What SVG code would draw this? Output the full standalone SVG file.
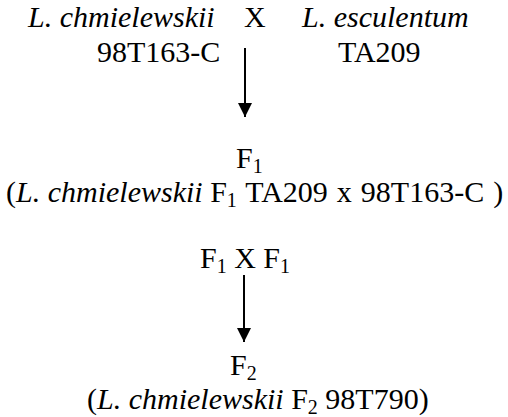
<svg xmlns="http://www.w3.org/2000/svg" width="508" height="417" viewBox="0 0 508 417" font-family="'Liberation Serif', 'DejaVu Serif', serif">
<defs>
<style>
text { font-family: 'Liberation Serif', 'DejaVu Serif', serif; font-size: 30px; fill: #000; }
.it { font-style: italic; }
.sub { font-size: 20px; }
.conn line { stroke: #000; stroke-width: 2; }
</style>
<marker id="ah" viewBox="0 0 14 15" refX="14" refY="7" markerWidth="14" markerHeight="15" markerUnits="userSpaceOnUse" orient="auto">
<path d="M0,0 L14,7 L0,14 Z" fill="#000"/>
</marker>
</defs>
<rect width="508" height="417" fill="#fff"/>
<g id="parents">
<text x="28" y="27" class="it">L. chmielewskii</text>
<text x="244" y="27">X</text>
<text x="302" y="27" class="it">L. esculentum</text>
<text x="97" y="62">98T163-C</text>
<text x="338" y="62">TA209</text>
</g>
<g id="f1">
<text x="236" y="168">F<tspan class="sub" dy="5">1</tspan></text>
<text x="6" y="202">(<tspan class="it">L. chmielewskii</tspan> F<tspan class="sub" dy="5">1</tspan><tspan dy="-5" word-spacing="1.5"> TA209 x 98T163-C )</tspan></text>
</g>
<g id="f1cross">
<text x="200" y="268">F<tspan class="sub" dy="5">1</tspan><tspan dy="-5"> X F</tspan><tspan class="sub" dy="5">1</tspan></text>
</g>
<g id="f2">
<text x="230" y="375">F<tspan class="sub" dy="5">2</tspan></text>
<text x="87" y="409">(<tspan class="it">L. chmielewskii</tspan> F<tspan class="sub" dy="5">2</tspan><tspan dy="-5"> 98T790)</tspan></text>
</g>
<g class="conn" id="connectors">
<line x1="245" y1="48" x2="245" y2="117" marker-end="url(#ah)"/>
<line x1="244" y1="275" x2="244" y2="342" marker-end="url(#ah)"/>
</g>
</svg>
